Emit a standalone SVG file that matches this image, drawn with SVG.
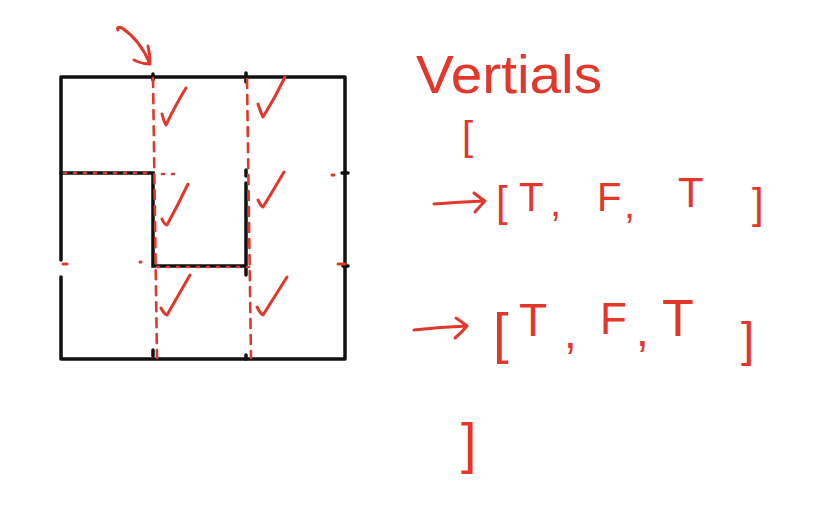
<svg xmlns="http://www.w3.org/2000/svg" width="839" height="520" viewBox="0 0 839 520">
<style>
.wall{stroke:#111;stroke-width:3.5;fill:none;stroke-linecap:round}
.red{stroke:#e3372b;stroke-width:3;fill:none;stroke-linecap:round;stroke-linejoin:round}
.dash{stroke:#e3372b;stroke-width:2.6;fill:none;stroke-dasharray:9 7;stroke-linecap:round}
.dot{stroke:#e3372b;stroke-width:2.6;fill:none;stroke-dasharray:2 8;stroke-linecap:round}
.t{font-family:"Liberation Sans",Arial,sans-serif;fill:#e3372b}
</style>
<rect width="839" height="520" fill="#fff"/>
<g id="grid">
<path class="wall" d="M61 77 H345 M61 359 H345 M345 77 V359 M61 77 V260 M61 277 V359"/>
<path class="wall" d="M61 173 H153 V266 H246 V275 M246 183 V266"/>
<path class="wall" d="M153 74 V80 M246 73 V82 M246 170 V176 M342 173 H348 M343 266 H348 M153 350 V356 M246 355 V359"/>
</g>
<g id="scan-lines">
<path class="dash" d="M153 78 Q155 220 157 358"/>
<path class="dash" d="M247 79 Q249 220 251 358"/>
<path class="dot" d="M64 173 H152 M162 174 H182"/>
<path class="dot" d="M157 267 H250"/>
<path class="red" d="M63 264 h4 M338 264 h7 M332 175 h2 M140 262 h1"/>
</g>
<g id="checks">
<path class="red" d="M162 114 Q164 122 166 125 Q176 104 186 88"/>
<path class="red" d="M258 104 Q261 113 263 117 Q275 98 285 77"/>
<path class="red" d="M162 219 Q164 224 167 225 Q178 205 188 184"/>
<path class="red" d="M258 200 Q261 206 263 207 Q274 189 284 172"/>
<path class="red" d="M161 308 Q164 314 167 315 Q178 296 190 275"/>
<path class="red" d="M257 307 Q260 313 263 315 Q275 296 287 277"/>
</g>
<g id="pointer">
<path class="red" d="M118 30 Q116 26 122 28 Q140 40 150 64 M134 60 Q142 64 150 64 Q150 54 148 46"/>
</g>
<g id="label">
<text class="t" x="416" y="93" font-size="54" textLength="186" lengthAdjust="spacingAndGlyphs">Vertials</text>
<text class="t" x="462" y="150" font-size="40">[</text>
<path class="red" d="M434 204 Q460 202 484 201 M474 193 Q480 198 485 201 Q480 206 475 212"/>
<text class="t" x="496" y="216" font-size="42">[</text>
<text class="t" x="519" y="211" font-size="40">T</text>
<text class="t" x="550" y="216" font-size="40">,</text>
<text class="t" x="597" y="211" font-size="40">F</text>
<text class="t" x="624" y="218" font-size="40">,</text>
<text class="t" x="678" y="207" font-size="42">T</text>
<text class="t" x="752" y="218" font-size="42">]</text>
<path class="red" d="M414 330 Q440 327 467 326 M456 318 Q462 322 467 326 Q462 332 455 338"/>
<text class="t" x="493" y="352" font-size="56">[</text>
<text class="t" x="519" y="336" font-size="46">T</text>
<text class="t" x="564" y="348" font-size="46">,</text>
<text class="t" x="600" y="334" font-size="44">F</text>
<text class="t" x="636" y="346" font-size="46">,</text>
<text class="t" x="662" y="336" font-size="52">T</text>
<text class="t" x="741" y="356" font-size="48">]</text>
<text class="t" x="461" y="462" font-size="56">]</text>
</g>
</svg>
